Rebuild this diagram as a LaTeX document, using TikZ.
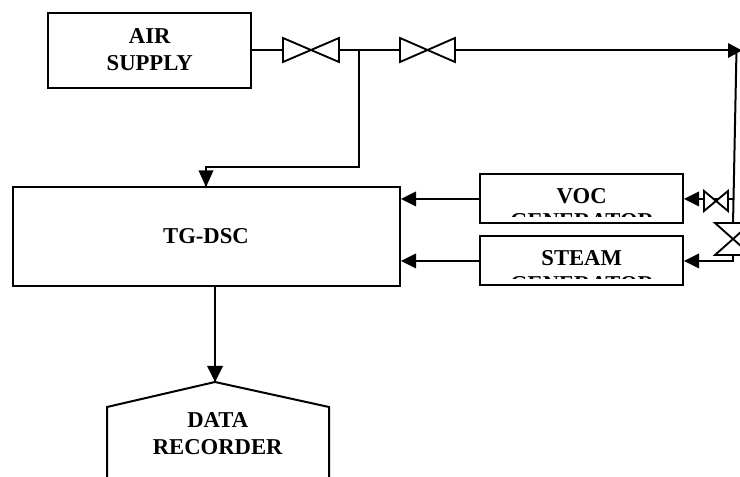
\documentclass[tikz,border=0pt]{standalone}
\usepackage{fontspec}
\setmainfont{Liberation Serif}
\begin{document}
\begin{tikzpicture}[x=0.75pt,y=-0.75pt,
  blockbox/.style={draw=black,line width=1.5pt,fill=white,inner sep=0},
  lbl/.style={font=\fontsize{17pt}{20.2pt}\bfseries\selectfont,align=center,text=black},
  pipe/.style={draw=black,line width=1.5pt},
  valve/.style={draw=black,line width=1.4pt,fill=white,line join=miter},
  tip/.style={fill=black,draw=none}]
\useasboundingbox (0,0) rectangle (740,477);
\clip (0,0) rectangle (740,477);
% blocks
\node[blockbox,minimum width=203*0.75pt,minimum height=75*0.75pt] (air) at (149.5,50.5) {};
\node[lbl] (airt) at (149.7,50) {AIR\\SUPPLY};
\node[blockbox,minimum width=387.5*0.75pt,minimum height=99*0.75pt] (tg) at (206.25,236.5) {};
\node[lbl] (tgt) at (206,236.5) {TG-DSC};
\node[blockbox,minimum width=203*0.75pt,minimum height=49*0.75pt] (voc) at (581.5,198.5) {};
\node[lbl,anchor=base] (voct) at (581.7,204) {VOC};
\node[blockbox,minimum width=203*0.75pt,minimum height=49*0.75pt] (steam) at (581.5,260.5) {};
\node[lbl,anchor=base] (steamt) at (581.7,266) {STEAM};
\begin{scope}
\clip (480,214) rectangle (683,217);
\node[lbl,anchor=base] (vocg) at (582,229) {GENERATOR};
\end{scope}
\begin{scope}
\clip (480,276.5) rectangle (683,279);
\node[lbl,anchor=base] (steamg) at (582,291.5) {GENERATOR};
\end{scope}
% recorder
\coordinate (ra) at (215,382);
\coordinate (rl) at (107,407);
\coordinate (rr) at (329,407);
\coordinate (rlb) at (107,477);
\coordinate (rrb) at (329,477);
\draw[pipe] (rlb) -- (rl) -- (ra) -- (rr) -- (rrb);
\node[lbl] (rect) at (217.7,433.5) {DATA\\RECORDER};
% connection points
\coordinate (j1) at (359.3,50.5);
\coordinate (c1) at (359.3,167.5);
\coordinate (c2) at (206,167.5);
\coordinate (tgtop) at (206,187);
\coordinate (v1) at (311,50.5);
\coordinate (end) at (742,50.5);
\coordinate (top) at (736.5,50);
\coordinate (s1) at (733,261);
\coordinate (s2) at (690,261);
\coordinate (s3) at (690,199);
\coordinate (s4) at (733,199);
\coordinate (t1) at (410,199);
\coordinate (t2) at (410,261);
% pipes
\draw[pipe] (air.east |- v1) -- (end);
\draw[pipe] (j1) -- (c1) -- (c2) -- (tgtop);
\draw[pipe] (215,286) -- (ra);
\draw[pipe] (top) -- (733,225);
\draw[pipe] (733,255) -- (s1) -- (s2);
\draw[pipe] (s4) -- (s3);
\draw[pipe] (voc.west |- t1) -- (t1);
\draw[pipe] (steam.west |- t2) -- (t2);
% valves
\draw[valve] (283,38) -- (339,62) -- (339,38) -- (283,62) -- cycle;
\draw[valve] (400,38) -- (455,62) -- (455,38) -- (400,62) -- cycle;
\draw[valve] (704,191) -- (728,211) -- (728,191) -- (704,211) -- cycle;
\draw[valve] (715,223) -- (751,255) -- (715,255) -- (751,223) -- cycle;
% arrowheads
\fill[tip] (206,187) -- (198.5,170.5) -- (213.5,170.5) -- cycle;
\fill[tip] (215,382) -- (207,366) -- (223,366) -- cycle;
\fill[tip] (742,50.5) -- (728,43) -- (728,58) -- cycle;
\fill[tip] (684,199) -- (699,191.5) -- (699,206.5) -- cycle;
\fill[tip] (684,261) -- (699,253.5) -- (699,268.5) -- cycle;
\fill[tip] (401,199) -- (416,191.5) -- (416,206.5) -- cycle;
\fill[tip] (401,261) -- (416,253.5) -- (416,268.5) -- cycle;
\end{tikzpicture}
\end{document}
